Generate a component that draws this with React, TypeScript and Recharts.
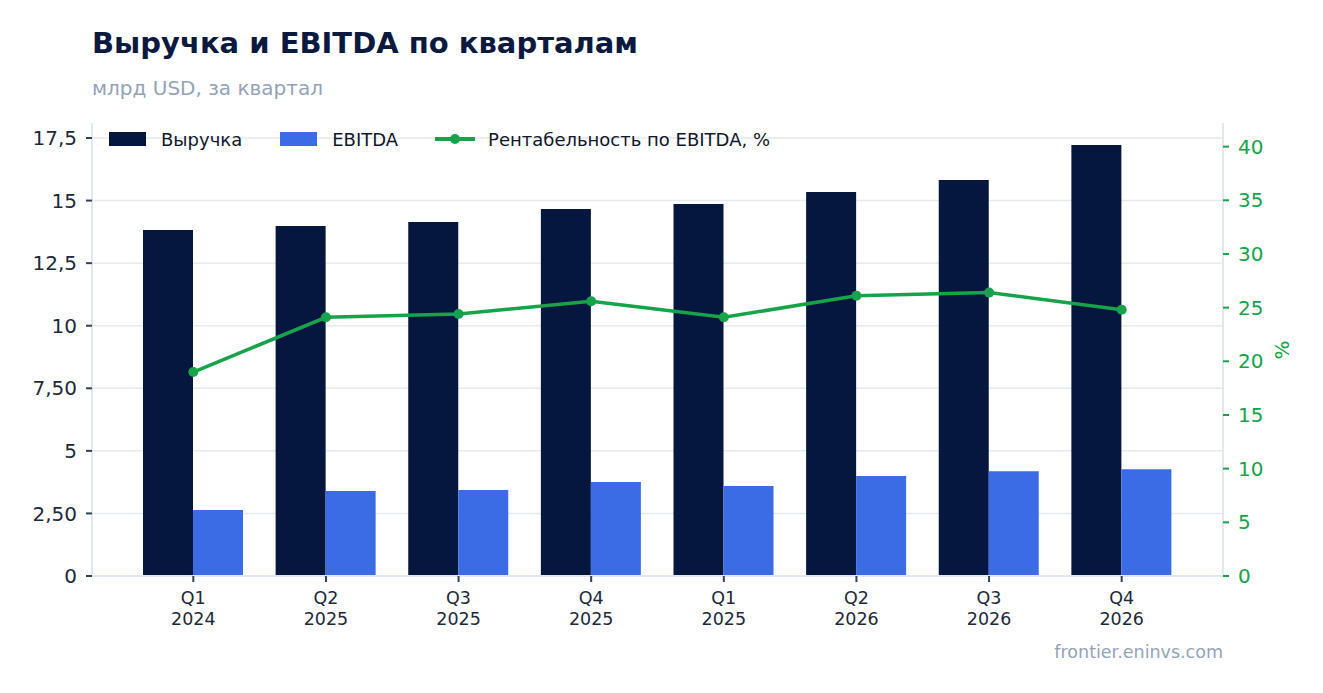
import React from 'react';
import {
  ComposedChart,
  Bar,
  Line,
  XAxis,
  YAxis,
  CartesianGrid,
} from 'recharts';

const quarters = ['Q1 2024', 'Q2 2025', 'Q3 2025', 'Q4 2025', 'Q1 2025', 'Q2 2026', 'Q3 2026', 'Q4 2026'];
const revenue = [13.82, 13.98, 14.14, 14.66, 14.86, 15.34, 15.82, 17.22];
const ebitda = [2.64, 3.4, 3.44, 3.76, 3.6, 4.0, 4.19, 4.27];
const margin = [19.0, 24.1, 24.4, 25.6, 24.1, 26.1, 26.4, 24.8];

const leftTicks = [0, 2.5, 5, 7.5, 10, 12.5, 15, 17.5];
const leftTickLabels = ['0', '2,50', '5', '7,50', '10', '12,5', '15', '17,5'];
const rightTicks = [0, 5, 10, 15, 20, 25, 30, 35, 40];
const leftMax = 18.1;
const rightMax = 42.2;

const NAVY = '#05163f';
const BLUE = '#3b6ce6';
const GREEN = '#16a34a';
const FONT = '"DejaVu Sans", sans-serif';

const data = quarters.map((q, i) => ({
  quarter: q,
  revenue: revenue[i],
  ebitda: ebitda[i],
  margin: margin[i],
}));

function QuarterTick(props: any) {
  const { x, y, payload } = props;
  const [q, year] = String(payload.value).split(' ');
  return (
    <text x={x} y={y} textAnchor="middle" fill="#1e293b" fontSize={17.5} fontFamily={FONT}>
      <tspan x={x} dy={20}>{q}</tspan>
      <tspan x={x} dy={21}>{year}</tspan>
    </text>
  );
}

// grid only at the left-axis ticks (no line at the plot top)
const gridRows = (args: any) => {
  const scale = args?.yAxis?.scale;
  const off = args?.offset;
  return leftTicks.map((t) => {
    if (typeof scale === 'function') return scale(t);
    if (scale && typeof scale.map === 'function') return scale.map(t);
    return off.top + off.height * (1 - t / leftMax);
  });
};

export default function App() {
  return (
    <div style={{ position: 'absolute', left: 0, top: 0, width: 1323, height: 693, background: '#fff', fontFamily: FONT }}>
      <div style={{ position: 'absolute', left: 92, top: 26, fontSize: 29, fontWeight: 'bold', color: '#0a1a3f', whiteSpace: 'nowrap' }}>
        Выручка и EBITDA по кварталам
      </div>
      <div style={{ position: 'absolute', left: 92, top: 76, fontSize: 20, color: '#94a3b8', whiteSpace: 'nowrap' }}>
        млрд USD, за квартал
      </div>

      <ComposedChart
        width={1323}
        height={693}
        data={data}
        margin={{ top: 123, left: 12, right: 40, bottom: 57 }}
        barGap={0}
      >
        <CartesianGrid
          yAxisId="left"
          vertical={false}
          stroke="#e5e9f0"
          strokeWidth={1.5}
          horizontalCoordinatesGenerator={gridRows}
        />
        <XAxis
          dataKey="quarter"
          height={60}
          padding={{ left: 35, right: 35 }}
          axisLine={{ stroke: '#e2e8f0', strokeWidth: 2 }}
          tickLine={{ stroke: '#334155', strokeWidth: 2 }}
          tickSize={6}
          tick={<QuarterTick />}
          interval={0}
        />
        <YAxis
          yAxisId="left"
          width={80}
          domain={[0, leftMax]}
          ticks={leftTicks}
          tickFormatter={(v: number) => leftTickLabels[leftTicks.indexOf(v)] ?? String(v)}
          axisLine={{ stroke: '#e2e8f0', strokeWidth: 2 }}
          tickLine={{ stroke: '#334155', strokeWidth: 2 }}
          tickSize={6}
          tickMargin={9}
          tick={{ fill: '#1e293b', fontSize: 20, fontFamily: FONT }}
        />
        <YAxis
          yAxisId="right"
          orientation="right"
          width={60}
          domain={[0, rightMax]}
          ticks={rightTicks}
          axisLine={{ stroke: '#e2e8f0', strokeWidth: 2 }}
          tickLine={{ stroke: GREEN, strokeWidth: 2 }}
          tickSize={6}
          tickMargin={9}
          tick={{ fill: GREEN, fontSize: 20, fontFamily: FONT }}
        />
        <Bar yAxisId="left" dataKey="revenue" fill={NAVY} barSize={50} isAnimationActive={false} />
        <Bar yAxisId="left" dataKey="ebitda" fill={BLUE} barSize={50} isAnimationActive={false} />
        <Line
          yAxisId="right"
          dataKey="margin"
          stroke={GREEN}
          strokeWidth={3.5}
          dot={{ r: 5, fill: GREEN, stroke: GREEN, strokeWidth: 0 }}
          isAnimationActive={false}
        />
      </ComposedChart>

      {/* legend */}
      <div style={{ position: 'absolute', left: 109, top: 128, height: 22, display: 'flex', alignItems: 'center', fontSize: 18, color: '#0f172a', whiteSpace: 'nowrap' }}>
        <span style={{ width: 37, height: 14, background: NAVY, display: 'inline-block' }} />
        <span style={{ marginLeft: 15 }}>Выручка</span>
        <span style={{ marginLeft: 38, width: 37, height: 14, background: BLUE, display: 'inline-block' }} />
        <span style={{ marginLeft: 15 }}>EBITDA</span>
        <svg width={40} height={14} style={{ marginLeft: 37 }}>
          <line x1={0} y1={7} x2={40} y2={7} stroke={GREEN} strokeWidth={4} />
          <circle cx={20} cy={7} r={5} fill={GREEN} />
        </svg>
        <span style={{ marginLeft: 13 }}>Рентабельность по EBITDA, %</span>
      </div>

      <div
        style={{
          position: 'absolute',
          left: 1282,
          top: 350,
          transform: 'translate(-50%, -50%) rotate(-90deg)',
          fontSize: 20,
          color: GREEN,
        }}
      >
        %
      </div>

      <div style={{ position: 'absolute', right: 1323 - 1223, top: 642, fontSize: 17.5, color: '#94a3b8', whiteSpace: 'nowrap' }}>
        frontier.eninvs.com
      </div>
    </div>
  );
}
